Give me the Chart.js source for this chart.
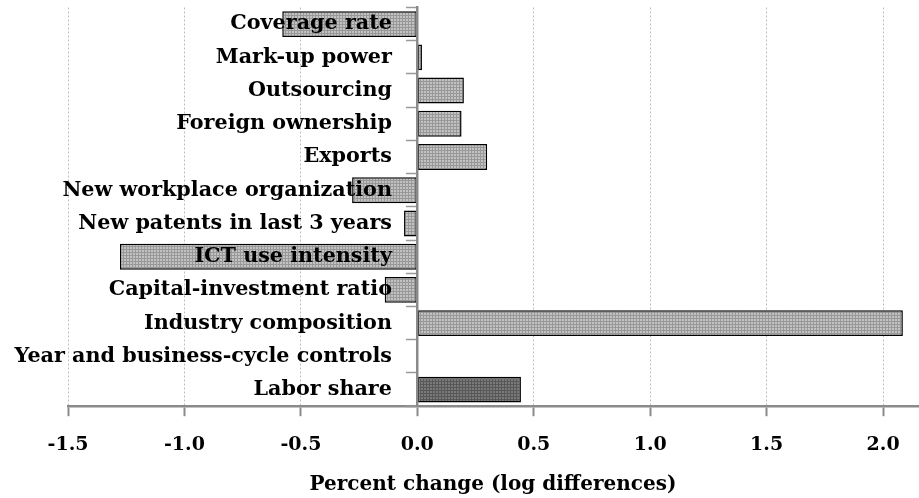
<!DOCTYPE html>
<html>
<head>
<meta charset="utf-8">
<script src="https://cdn.jsdelivr.net/npm/chart.js@4.4.1/dist/chart.umd.min.js"></script>
<style>
  html, body { margin: 0; padding: 0; background: #fff; }
  #wrap { width: 919px; height: 498px; position: relative; }
</style>
</head>
<body>
<div id="wrap"><canvas id="c"></canvas></div>
<script>
const categories = [
  'Coverage rate',
  'Mark-up power',
  'Outsourcing',
  'Foreign ownership',
  'Exports',
  'New workplace organization',
  'New patents in last 3 years',
  'ICT use intensity',
  'Capital-investment ratio',
  'Industry composition',
  'Year and business-cycle controls',
  'Labor share'
];
const values = [-0.58, 0.02, 0.20, 0.19, 0.30, -0.28, -0.057, -1.277, -0.14, 2.085, -0.006, 0.445];
const xTickStep = 0.5;
const xMin = -1.5;
const xMax = 2.15;
const axisTitle = 'Percent change (log differences)';

function makePattern(base, line) {
  const p = document.createElement('canvas');
  p.width = 3; p.height = 3;
  const g = p.getContext('2d');
  g.fillStyle = base;
  g.fillRect(0, 0, 3, 3);
  g.fillStyle = line;
  g.fillRect(0, 0, 3, 1);
  g.fillRect(0, 0, 1, 3);
  return g.createPattern(p, 'repeat');
}
const cctx = document.getElementById('c').getContext('2d');
const lightFill = makePattern('#c2c2c2', '#989898');
const darkFill = makePattern('#7a7a7a', '#585858');

const fontFamily = '"DejaVu Serif", "Liberation Serif", serif';

const bgPlugin = {
  id: 'bg',
  beforeDraw(chart) {
    const c = chart.ctx;
    c.save();
    c.fillStyle = '#fff';
    c.fillRect(0, 0, chart.width, chart.height);
    c.restore();
  }
};

const noPad = (scale) => { scale.paddingTop = 0; scale.paddingBottom = 0; };

new Chart(cctx, {
  type: 'bar',
  data: {
    labels: categories,
    datasets: [{
      data: values,
      yAxisID: 'y',
      backgroundColor: (ctx) => ctx.dataIndex === categories.length - 1 ? darkFill : lightFill,
      borderColor: '#000',
      borderWidth: 1.5,
      borderSkipped: false,
      categoryPercentage: 1,
      barPercentage: 0.78
    }]
  },
  options: {
    indexAxis: 'y',
    responsive: true,
    maintainAspectRatio: false,
    animation: false,
    layout: { padding: { left: 68, top: 7.5, right: 1, bottom: 1 } },
    plugins: {
      legend: { display: false },
      tooltip: { enabled: false }
    },
    scales: {
      x: {
        type: 'linear',
        min: xMin,
        max: xMax,
        ticks: {
          stepSize: xTickStep,
          includeBounds: false,
          callback: (v) => Number(v).toFixed(1),
          color: '#000',
          padding: 17,
          font: { family: fontFamily, size: 19, weight: 'bold' }
        },
        grid: {
          color: '#bdbdbd',
          lineWidth: 1,
          drawTicks: true,
          tickLength: 10,
          tickColor: '#8a8a8a',
          tickWidth: 2,
          tickBorderDash: []
        },
        border: { display: true, color: '#8a8a8a', width: 2.5, dash: [2, 2] },
        title: {
          display: true,
          text: axisTitle,
          color: '#000',
          padding: { top: 0, bottom: 0 },
          font: { family: fontFamily, size: 20, weight: 'bold' }
        }
      },
      y: {
        type: 'category',
        position: { x: 0 },
        offset: true,
        afterFit: noPad,
        ticks: { display: false },
        grid: {
          display: true,
          drawOnChartArea: false,
          drawTicks: true,
          tickLength: 10,
          tickColor: '#999',
          tickWidth: 1.5,
          offset: true,
          z: 1
        },
        border: { display: true, color: '#8a8a8a', width: 2.5, z: 1 }
      },
      yLabels: {
        type: 'category',
        labels: categories,
        position: { x: -0.109 },
        offset: true,
        afterFit: noPad,
        ticks: {
          color: '#000',
          padding: 0,
          autoSkip: false,
          z: 1,
          font: { family: fontFamily, size: 20.7, weight: 'bold' }
        },
        grid: { display: false, drawTicks: false },
        border: { display: false }
      }
    }
  },
  plugins: [bgPlugin]
});
</script>
</body>
</html>
